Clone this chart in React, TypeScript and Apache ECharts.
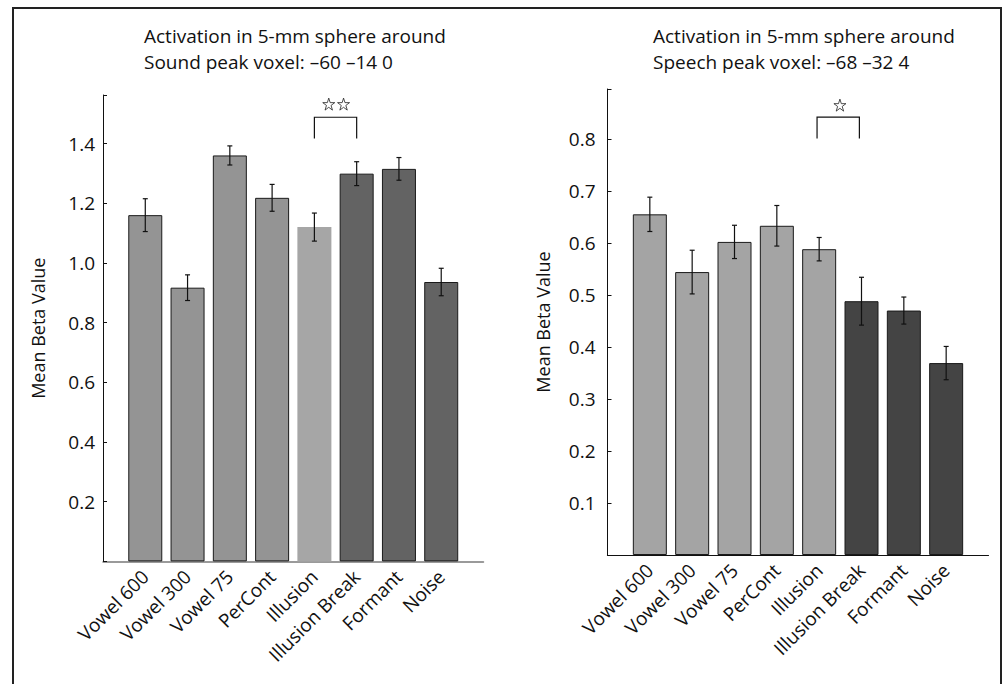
import React, { useEffect, useRef } from "react";
import * as echarts from "echarts";

const categories = ["Vowel 600", "Vowel 300", "Vowel 75", "PerCont", "Illusion", "Illusion Break", "Formant", "Noise"];

const soundValues = [1.16, 0.917, 1.36, 1.218, 1.12, 1.299, 1.315, 0.936];
const soundErrors = [0.055, 0.043, 0.032, 0.045, 0.047, 0.04, 0.038, 0.046];
const soundColors = ["#949494", "#949494", "#949494", "#949494", "#a6a6a6", "#636363", "#636363", "#636363"];
const soundBorders = [1, 1, 1, 1, 0, 1, 1, 1];

const speechValues = [0.655, 0.544, 0.602, 0.633, 0.588, 0.488, 0.47, 0.369];
const speechErrors = [0.033, 0.042, 0.032, 0.039, 0.0225, 0.046, 0.026, 0.032];
const speechColors = ["#a4a4a4", "#a4a4a4", "#a4a4a4", "#a4a4a4", "#a4a4a4", "#444444", "#444444", "#444444"];

const soundBracket = [[5, 6, 1.488, 1.417]];
const speechBracket = [[4.95, 5.95, 0.842, 0.801]];
const soundStars = [[5.34, 1.532], [5.69, 1.532]];
const speechStars = [[5.49, 0.865]];

const titles = [
  "Activation in 5-mm sphere around\nSound peak voxel: \u201360 \u201314 0",
  "Activation in 5-mm sphere around\nSpeech peak voxel: \u201368 \u201332 4",
];

const FONT = "Open Sans";
const STAR = "path://M50,2 L61,36 L97,36 L68,57 L79,92 L50,71 L21,92 L32,57 L3,36 L39,36 Z";

function barData(values: number[], colors: string[], borders?: number[]) {
  return values.map((v, i) => ({
    value: [i + 1, v],
    itemStyle: { color: colors[i], borderColor: "#1a1a1a", borderWidth: borders ? borders[i] : 1 },
  }));
}

function errData(values: number[], errs: number[]) {
  return values.map((v, i) => [i + 1, v - errs[i], v + errs[i]]);
}

const errRender = (params: any, api: any) => {
  const x = api.value(0);
  const lo = api.coord([x, api.value(1)]);
  const hi = api.coord([x, api.value(2)]);
  const style = { stroke: "#111", lineWidth: 1.2 };
  return {
    type: "group",
    children: [
      { type: "line", shape: { x1: lo[0], y1: lo[1], x2: hi[0], y2: hi[1] }, style },
      { type: "line", shape: { x1: hi[0] - 2.5, y1: hi[1], x2: hi[0] + 2.5, y2: hi[1] }, style },
      { type: "line", shape: { x1: lo[0] - 2.5, y1: lo[1], x2: lo[0] + 2.5, y2: lo[1] }, style },
    ],
  };
};

const bracketRender = (params: any, api: any) => {
  const a = api.coord([api.value(0), api.value(3)]);
  const b = api.coord([api.value(0), api.value(2)]);
  const c = api.coord([api.value(1), api.value(2)]);
  const d = api.coord([api.value(1), api.value(3)]);
  return {
    type: "polyline",
    shape: { points: [a, b, c, d] },
    style: { stroke: "#111", lineWidth: 1.2, fill: "none" },
  };
};

function yLabelFmt(step: number) {
  return (v: number) => {
    const k = v / step;
    if (v <= 0 || Math.abs(k - Math.round(k)) > 1e-6) return "";
    return v.toFixed(1);
  };
}

export default function App() {
  const ref = useRef<HTMLDivElement>(null);
  useEffect(() => {
    document.body.style.margin = "0";
    const chart = echarts.init(ref.current!, null, { renderer: "svg" });
    const xAxisBase = (idx: number, color: string, w: number) => ({
      type: "value",
      gridIndex: idx,
      min: 0,
      max: 9,
      interval: 1,
      splitLine: { show: false },
      axisTick: { show: false },
      axisLine: { show: true, lineStyle: { color, width: w } },
      axisLabel: {
        rotate: 45,
        margin: 12,
        fontFamily: FONT,
        fontSize: 19,
        color: "#111",
        formatter: (v: number) => categories[Math.round(v) - 1] || "",
      },
    });
    const yAxisBase = (idx: number, max: number, step: number, margin: number) => ({
      type: "value",
      gridIndex: idx,
      min: 0,
      max,
      interval: step,
      name: "Mean Beta Value",
      nameLocation: "middle",
      nameGap: 56,
      nameTextStyle: { fontFamily: FONT, fontSize: 18, color: "#111" },
      splitLine: { show: false },
      axisLine: { show: true, lineStyle: { color: "#111", width: 1 } },
      axisTick: { show: true, inside: true, length: 4, lineStyle: { color: "#111" } },
      axisLabel: { margin, fontFamily: FONT, fontSize: 19, color: "#111", formatter: yLabelFmt(step) },
    });
    const titleStyle = { fontFamily: FONT, fontSize: 19, fontWeight: "normal", color: "#111", lineHeight: 26 };
    chart.setOption({
      animation: false,
      backgroundColor: "#fff",
      title: [
        { text: titles[0], left: 144, top: 23, padding: 0, textStyle: titleStyle },
        { text: titles[1], left: 653, top: 23, padding: 0, textStyle: titleStyle },
      ],
      grid: [
        { left: 103, top: 95, width: 380.5, height: 466.4, containLabel: false },
        { left: 607.5, top: 89, width: 381, height: 466, containLabel: false },
      ],
      xAxis: [xAxisBase(0, "#7a7a7a", 1.5), xAxisBase(1, "#111", 1.2)],
      yAxis: [yAxisBase(0, 1.5625, 0.2, 8), yAxisBase(1, 0.896, 0.1, 12)],
      graphic: [
        { type: "rect", shape: { x: 13, y: 8, width: 988, height: 700 }, style: { fill: "none", stroke: "#222", lineWidth: 2 }, silent: true },
      ],
      series: [
        { type: "bar", xAxisIndex: 0, yAxisIndex: 0, barWidth: 34, data: barData(soundValues, soundColors, soundBorders) },
        { type: "custom", xAxisIndex: 0, yAxisIndex: 0, renderItem: errRender, data: errData(soundValues, soundErrors), z: 5 },
        { type: "custom", xAxisIndex: 0, yAxisIndex: 0, renderItem: bracketRender, data: soundBracket, z: 5 },
        { type: "scatter", xAxisIndex: 0, yAxisIndex: 0, symbol: STAR, symbolSize: 12, data: soundStars, itemStyle: { color: "#fff", borderColor: "#222", borderWidth: 1 } },
        { type: "bar", xAxisIndex: 1, yAxisIndex: 1, barWidth: 34, data: barData(speechValues, speechColors) },
        { type: "custom", xAxisIndex: 1, yAxisIndex: 1, renderItem: errRender, data: errData(speechValues, speechErrors), z: 5 },
        { type: "custom", xAxisIndex: 1, yAxisIndex: 1, renderItem: bracketRender, data: speechBracket, z: 5 },
        { type: "scatter", xAxisIndex: 1, yAxisIndex: 1, symbol: STAR, symbolSize: 12, data: speechStars, itemStyle: { color: "#fff", borderColor: "#222", borderWidth: 1 } },
      ],
    });
    return () => chart.dispose();
  }, []);
  return <div ref={ref} style={{ width: 1005, height: 684 }} />;
}
